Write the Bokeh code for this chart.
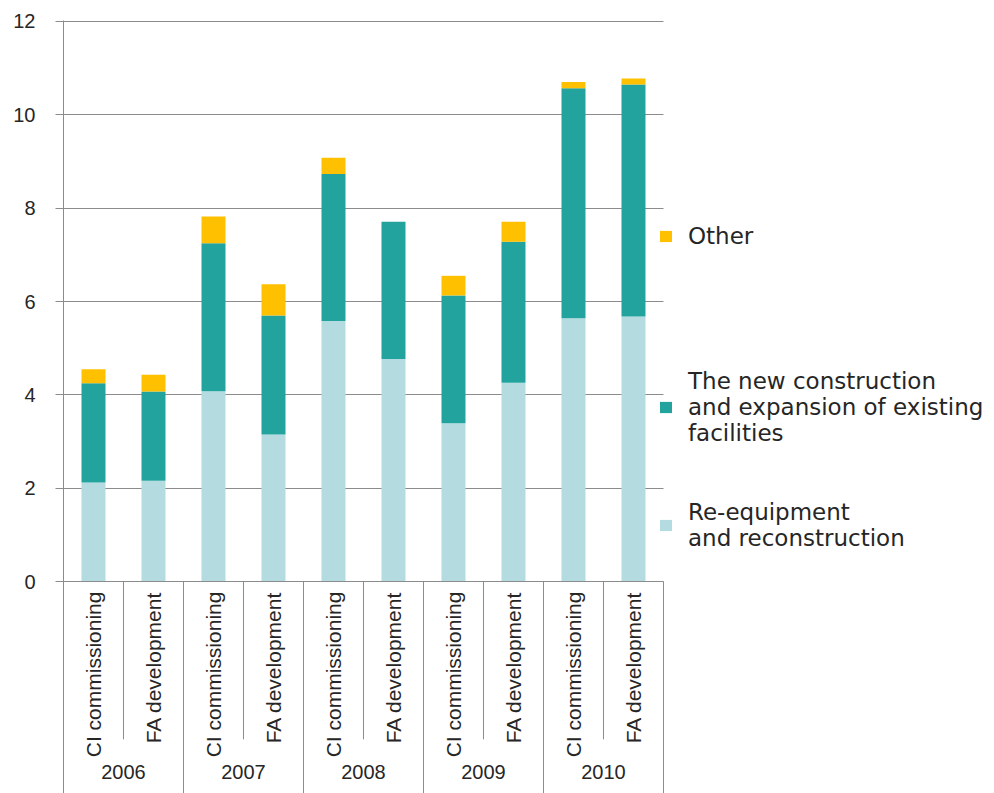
import math
from bokeh.plotting import figure
from bokeh.models import (Range1d, FixedTicker, Legend, LegendItem, LinearAxis,
                          ColumnDataSource, CustomJSTickFormatter)
from bokeh.embed import file_html
from bokeh.resources import INLINE

# ---- data ----
years = ["2006", "2007", "2008", "2009", "2010"]
kinds = ["CI commissioning", "FA development"]
reequipment = [2.12, 2.16, 4.08, 3.15, 5.58, 4.77, 3.39, 4.26, 5.64, 5.68]
new_construction = [2.13, 1.91, 3.17, 2.55, 3.15, 2.94, 2.74, 3.02, 4.93, 4.97]
other = [0.30, 0.36, 0.57, 0.67, 0.35, 0.00, 0.42, 0.43, 0.13, 0.13]
y_ticks = [0, 2, 4, 6, 8, 10, 12]
series_labels = ["Re-equipment\nand reconstruction",
                 "The new construction\nand expansion of existing\nfacilities",
                 "Other"]

# ---- styles ----
colors = ["#B4DCE0", "#22A39E", "#FFC000"]
grid_color = "#8C8C8C"
text_color = "#262626"
y_min, y_max = -4.54, 12.02
x_extra = 5.517            # room right of the categories for the legend
inner_sep_depth = -3.38

n = len(kinds)
n_cat = len(years) * n
sub_labels = [k for _ in years for k in kinds]
x_pos = [i + 0.5 for i in range(n_cat)]
group_pos = [g * n + n / 2 for g in range(len(years))]

src = ColumnDataSource(dict(x=x_pos, reequip=reequipment,
                            newcon=new_construction, other=other))

p = figure(x_range=Range1d(0, n_cat + x_extra), y_range=Range1d(y_min, y_max),
           width=994, height=793, output_backend="svg", toolbar_location=None,
           min_border_left=63, min_border_right=0, min_border_top=20,
           min_border_bottom=0)
p.outline_line_color = None
p.background_fill_color = "white"
p.border_fill_color = "white"

renderers = p.vbar_stack(["reequip", "newcon", "other"], x="x", width=0.4,
                         fill_color=colors, line_color=None, source=src)

# group separators below the category axis
outer_x = [i * n for i in range(len(years) + 1)]
inner_x = [i * n + j for i in range(len(years)) for j in range(1, n)]
p.segment(x0=outer_x, y0=[0] * len(outer_x), x1=outer_x, y1=[y_min] * len(outer_x),
          line_color=grid_color, line_width=1)
p.segment(x0=inner_x, y0=[0] * len(inner_x), x1=inner_x,
          y1=[inner_sep_depth] * len(inner_x), line_color=grid_color, line_width=1)

# x axis with category labels, drawn at y = 0
xa = p.xaxis[0]
xa.fixed_location = 0
xa.bounds = (0, n_cat)
xa.ticker = FixedTicker(ticks=x_pos)
xa.formatter = CustomJSTickFormatter(args=dict(labels=sub_labels),
                                     code="return labels[Math.floor(tick)]")
xa.axis_line_color = grid_color
xa.major_tick_line_color = None
xa.major_tick_out = 0
xa.major_tick_in = 0
xa.minor_tick_line_color = None
xa.major_label_orientation = math.pi / 2
xa.major_label_standoff = 10
xa.major_label_text_font = "Liberation Sans"
xa.major_label_text_font_size = "21px"
xa.major_label_text_color = text_color

# second x axis with the year (group) labels
ga = LinearAxis(fixed_location=0, bounds=(0, n_cat),
                ticker=FixedTicker(ticks=group_pos),
                formatter=CustomJSTickFormatter(args=dict(labels=years, n=n),
                                                code="return labels[Math.floor(tick / n)]"),
                axis_line_color=None, major_tick_line_color=None,
                major_tick_out=0, major_tick_in=0, minor_tick_line_color=None,
                major_label_standoff=183,
                major_label_text_font="Liberation Sans",
                major_label_text_font_size="20px",
                major_label_text_color=text_color)
p.add_layout(ga, "below")

ya = p.yaxis[0]
ya.ticker = FixedTicker(ticks=y_ticks)
ya.axis_line_color = grid_color
ya.major_tick_line_color = grid_color
ya.major_tick_out = 8
ya.major_tick_in = 0
ya.minor_tick_line_color = None
ya.major_label_standoff = 20
ya.major_label_text_font = "Liberation Sans"
ya.major_label_text_font_size = "20px"
ya.major_label_text_color = text_color

p.xgrid.visible = False
grid = p.ygrid[0]
grid.grid_line_color = grid_color
grid.grid_line_width = 1
if "cross_bounds" in grid.properties():
    grid.cross_bounds = (0, n_cat)


def make_legend(idx, loc):
    leg = Legend(items=[LegendItem(label=series_labels[idx], renderers=[renderers[idx]])],
                 location=loc, padding=0, margin=0, spacing=0,
                 border_line_color=None, background_fill_alpha=0,
                 glyph_width=15, glyph_height=14, label_standoff=15,
                 label_text_font="DejaVu Sans", label_text_font_size="23px",
                 label_text_color=text_color, label_text_line_height=1.5)
    p.add_layout(leg, "center")


make_legend(2, (595, 544))
make_legend(1, (595, 347))
make_legend(0, (595, 242))

open("out.html", "w").write(file_html(p, INLINE))
